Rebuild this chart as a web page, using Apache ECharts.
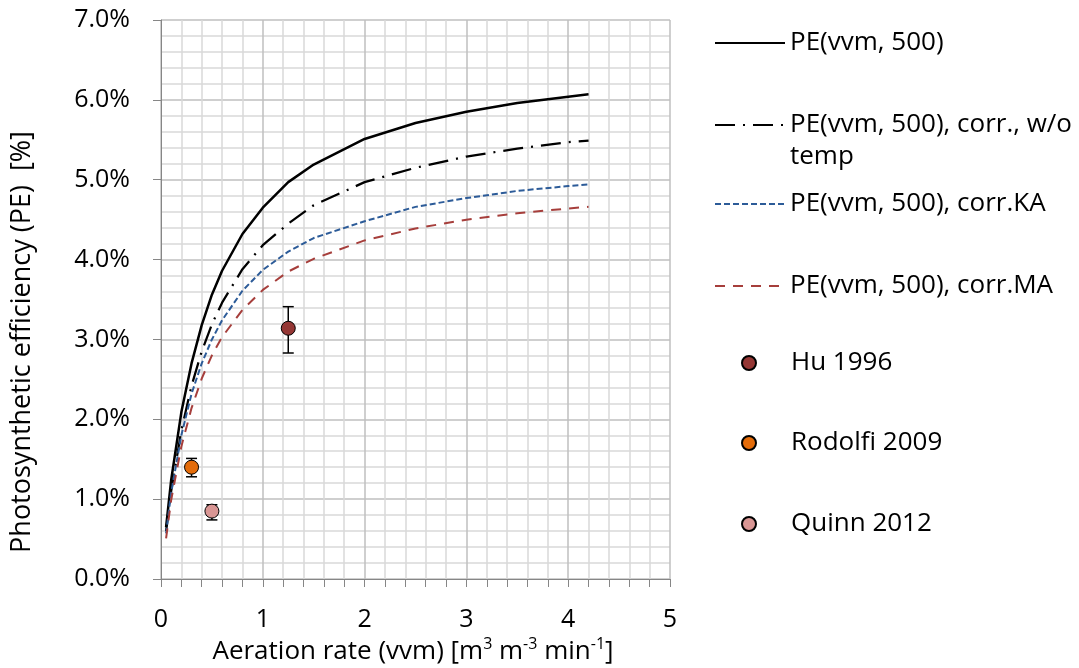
<!DOCTYPE html>
<html>
<head>
<meta charset="utf-8">
<title>Photosynthetic efficiency vs aeration rate</title>
<script src="https://cdn.jsdelivr.net/npm/echarts@6/dist/echarts.min.js"></script>
<style>
  html, body { margin: 0; padding: 0; background: #fff; }
  #chart { width: 1079px; height: 668px; }
</style>
</head>
<body>
<div id="chart"></div>
<script>
// model curves (PE in %)
const vvm = [0.05, 0.1, 0.2, 0.3, 0.4, 0.5, 0.6, 0.8, 1, 1.25, 1.5, 2, 2.5, 3, 3.5, 4, 4.2];
const peBase = [0.65, 1.24, 2.09, 2.70, 3.18, 3.56, 3.86, 4.32, 4.65, 4.97, 5.19, 5.51, 5.71, 5.85, 5.96, 6.04, 6.07];
const peCorrNoTemp = [0.60, 1.10, 1.86, 2.42, 2.85, 3.19, 3.46, 3.88, 4.18, 4.45, 4.68, 4.97, 5.15, 5.29, 5.39, 5.47, 5.49];
const peCorrKA = [0.57, 1.08, 1.80, 2.32, 2.70, 3.00, 3.24, 3.61, 3.87, 4.10, 4.27, 4.48, 4.66, 4.77, 4.86, 4.92, 4.94];
const peCorrMA = [0.51, 0.99, 1.66, 2.14, 2.51, 2.80, 3.03, 3.37, 3.62, 3.85, 4.01, 4.24, 4.39, 4.50, 4.58, 4.64, 4.66];

// literature points
const studyNames = ['Hu 1996', 'Rodolfi 2009', 'Quinn 2012'];
const studyVvm = [1.25, 0.30, 0.50];
const studyPE = [3.14, 1.40, 0.85];
const studyLow = [2.83, 1.28, 0.74];
const studyHigh = [3.41, 1.51, 0.93];

const lineNames = ['PE(vvm, 500)', 'PE(vvm, 500), corr., w/o temp', 'PE(vvm, 500), corr.KA', 'PE(vvm, 500), corr.MA'];
const studyColors = ['#953735', '#E46C0A', '#D99694'];

const FONT = '"Open Sans", "Noto Sans", sans-serif';
const chart = echarts.init(document.getElementById('chart'));

function pairs(ys) {
  return vvm.map((x, i) => [x, ys[i]]);
}

function renderErrorBar(params, api) {
  const x = api.value(0);
  const lo = api.coord([x, api.value(1)]);
  const hi = api.coord([x, api.value(2)]);
  const half = 5.5;
  const style = { stroke: '#000', lineWidth: 1.5 };
  return {
    type: 'group',
    children: [
      { type: 'line', shape: { x1: lo[0], y1: lo[1], x2: hi[0], y2: hi[1] }, style: style },
      { type: 'line', shape: { x1: lo[0] - half, y1: lo[1], x2: lo[0] + half, y2: lo[1] }, style: style },
      { type: 'line', shape: { x1: hi[0] - half, y1: hi[1], x2: hi[0] + half, y2: hi[1] }, style: style }
    ]
  };
}

const lineStyles = [
  { color: '#000', width: 2.5, type: 'solid' },
  { color: '#000', width: 2.25, type: [20, 8, 2, 8] },
  { color: '#2C5B98', width: 2, type: [6, 3] },
  { color: '#A63E3B', width: 2, type: [10, 8] }
];
const lineData = [peBase, peCorrNoTemp, peCorrKA, peCorrMA];

const series = lineNames.map((name, i) => ({
  name: name,
  type: 'line',
  data: pairs(lineData[i]),
  symbol: 'none',
  smooth: false,
  lineStyle: lineStyles[i],
  itemStyle: { color: lineStyles[i].color },
  z: 3
}));

series.push({
  type: 'custom',
  name: 'errors',
  renderItem: renderErrorBar,
  data: studyVvm.map((x, i) => [x, studyLow[i], studyHigh[i]]),
  z: 4,
  silent: true
});

studyNames.forEach((name, i) => {
  series.push({
    name: name,
    type: 'scatter',
    data: [[studyVvm[i], studyPE[i]]],
    symbol: 'circle',
    symbolSize: 14,
    itemStyle: { color: studyColors[i], borderColor: '#000', borderWidth: 1, opacity: 1 },
    z: 5
  });
});

// one legend per entry so the rows can sit where the original has them
const legendRows = [44, 126, 205, 287, 364, 444, 525];
const legendNames = lineNames.concat(studyNames);
const legends = legendNames.map((name, i) => {
  const isLine = i < lineNames.length;
  const lg = {
    data: [name],
    left: isLine ? 714 : 741,
    top: legendRows[i] - 14,
    orient: 'vertical',
    padding: 0,
    itemWidth: isLine ? 70 : 14,
    itemHeight: 14,
    itemGap: 0,
    selectedMode: false,
    formatter: n => (n === 'PE(vvm, 500), corr., w/o temp' ? 'PE(vvm, 500), corr., w/o' : n),
    textStyle: {
      fontFamily: FONT, fontSize: 26, color: '#000',
      padding: isLine ? 0 : [0, 0, 0, 30]
    }
  };
  // line entries: keep the line sample, hide the marker dot
  if (isLine) lg.itemStyle = { opacity: 0 };
  return lg;
});

const option = {
  animation: false,
  backgroundColor: '#fff',
  grid: { left: 161, right: 409, top: 20, bottom: 89 },
  legend: legends,
  xAxis: {
    type: 'value',
    min: 0,
    max: 5,
    interval: 1,
    axisLine: { show: true, lineStyle: { color: '#868686', width: 1 } },
    axisTick: { show: true, length: 8, lineStyle: { color: '#868686' } },
    minorTick: { show: true, splitNumber: 5, length: 8, lineStyle: { color: '#868686' } },
    splitLine: { show: true, lineStyle: { color: '#bfbfbf', width: 1.5 } },
    minorSplitLine: { show: true, lineStyle: { color: '#d9d9d9', width: 1.5 } },
    axisLabel: { fontFamily: FONT, fontSize: 25, color: '#000', margin: 28 }
  },
  yAxis: {
    type: 'value',
    min: 0,
    max: 7,
    interval: 1,
    axisLine: { show: true, lineStyle: { color: '#868686', width: 1 } },
    axisTick: { show: true, length: 8, lineStyle: { color: '#868686' } },
    minorTick: { show: false, splitNumber: 5 },
    splitLine: { show: true, lineStyle: { color: '#bfbfbf', width: 1.5 } },
    minorSplitLine: { show: true, lineStyle: { color: '#d9d9d9', width: 1.5 } },
    axisLabel: {
      fontFamily: FONT, fontSize: 25, color: '#000', margin: 31,
      formatter: v => v.toFixed(1) + '%'
    }
  },
  graphic: [
    {
      type: 'text',
      left: 790,
      top: 144,
      style: { text: 'temp', font: '26px ' + FONT, fill: '#000' }
    },
    {
      type: 'text',
      x: 413,
      y: 652,
      style: {
        text: '{n|Aeration rate (vvm) [m}{s|3}{n| m}{s|-3}{n| min}{s|-1}{n|]}',
        align: 'center',
        verticalAlign: 'middle',
        rich: {
          n: { fontFamily: FONT, fontSize: 26, lineHeight: 32, fill: '#000', color: '#000' },
          s: { fontFamily: FONT, fontSize: 16, lineHeight: 22, verticalAlign: 'top', fill: '#000', color: '#000' }
        }
      }
    },
    {
      type: 'text',
      x: 22,
      y: 342,
      rotation: Math.PI / 2,
      style: {
        text: 'Photosynthetic efficiency (PE)  [%]',
        font: '27px ' + FONT,
        fill: '#000',
        align: 'center',
        verticalAlign: 'middle'
      }
    }
  ],
  series: series
};

chart.setOption(option);
</script>
</body>
</html>
